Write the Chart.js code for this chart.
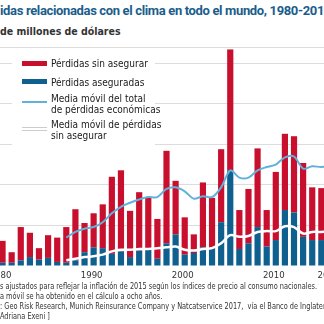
<!DOCTYPE html>
<html>
<head>
<meta charset="utf-8">
<script src="https://cdn.jsdelivr.net/npm/chart.js@4"></script>
<style>
  html, body { margin: 0; padding: 0; background: #fff; }
  body { width: 324px; height: 324px; overflow: hidden; position: relative; }
  .narrow { font-family: "Liberation Sans Narrow", "DejaVu Sans Condensed", sans-serif; }
  #title { position: absolute; left: 0; top: 3px; white-space: nowrap; font-family: Roboto, sans-serif;
    font-weight: bold; font-size: 13px; color: #1a5d8c; letter-spacing: -0.35px; }
  #subtitle { position: absolute; left: 0; top: 25px; white-space: nowrap; font-size: 10.5px; font-weight: bold; color: #333; }
  #chartBox { position: absolute; left: -2px; top: 40px; width: 337px; height: 250px; }
  #legend { position: absolute; left: 12px; top: 55px; width: 143px; height: 93px; background: #fff; }
  .item { position: absolute; left: 39px; font-size: 10px; line-height: 11px; color: #1a1a1a; white-space: nowrap; }
  .sw { position: absolute; left: 10px; width: 25px; }
  #notes { position: absolute; left: 0; top: 281px; font-size: 8.5px; line-height: 10px; color: #333; white-space: nowrap;
    transform: scaleX(0.86); transform-origin: 0 0; }
</style>
</head>
<body>
<div id="title">idas relacionadas con el clima en todo el mundo, 1980-2016</div>
<div id="subtitle" class="narrow">de millones de dólares</div>
<div id="chartBox"><canvas id="lossChart"></canvas></div>
<div id="legend" class="narrow">
  <div class="sw" style="top:6px;height:5px;background:#c8102e"></div>
  <div class="item" style="top:3px">Pérdidas sin asegurar</div>
  <div class="sw" style="top:24px;height:5px;background:#0f5f8f"></div>
  <div class="item" style="top:22px">Pérdidas aseguradas</div>
  <div class="sw" style="top:46px;height:2px;background:#62b1db"></div>
  <div class="item" style="top:38px">Media móvil del total<br>de pérdidas económicas</div>
  <div class="sw" style="top:72px;height:1.5px;background:#fff;border-top:1px solid #ccc;border-bottom:1px solid #ccc"></div>
  <div class="item" style="top:64px">Media móvil de pérdidas<br>sin asegurar</div>
</div>
<div id="notes" class="narrow">
  s ajustados para reflejar la inflación de 2015 según los índices de precio al consumo nacionales.<br>
  a móvil se ha obtenido en el cálculo a ocho años.<br>
  : Geo Risk Research, Munich Reinsurance Company y Natcatservice 2017,&nbsp; vía el Banco de Inglaterra<br>
  Adriana Exeni ]
</div>

<script>
// Years on the x axis
const years = [
	1980, 1981, 1982, 1983, 1984, 1985, 1986, 1987, 1988, 1989,
	1990, 1991, 1992, 1993, 1994, 1995, 1996, 1997, 1998, 1999,
	2000, 2001, 2002, 2003, 2004, 2005, 2006, 2007, 2008, 2009,
	2010, 2011, 2012, 2013, 2014, 2015, 2016,
];

// Insured losses (miles de millones de dólares)
const insured = [
	4, 4, 7, 11, 8, 10, 5, 4, 7, 17,
	23, 22, 15, 18, 11, 19, 20, 9, 28, 39,
	14, 16, 23, 22, 54, 118, 21, 28, 48, 24,
	32, 69, 66, 36, 32, 32, 45,
];

// Total economic losses (bar tops)
const totalLosses = [
	31, 17, 48, 41, 22, 38, 35, 48, 70, 53,
	65, 76, 110, 118, 68, 91, 85, 58, 142, 105,
	60, 39, 103, 84, 144, 267, 69, 95, 145, 69,
	116, 163, 160, 127, 97, 96, 120,
];

// Uninsured = total - insured
const uninsured = totalLosses.map((t, i) => t - insured[i]);

// Moving average of total losses
const maTotal = [
	null, null, null, null, null, null, null, 35, 42, 46,
	48, 54, 65, 73, 78, 82, 85, 85, 95, 97,
	92, 83, 86, 85, 97, 118, 109, 109, 118, 122,
	125, 134, 135, 120, 123, 122, 124,
];

// Moving average of uninsured losses (white line)
const maUninsured = [
	null, null, null, null, null, null, null, 7, 9, 11,
	12, 14, 18, 20, 20, 21, 21, 22, 23, 24,
	20, 19, 21, 22, 28, 38, 36, 37, 42, 43,
	43, 49, 48, 40, 42, 42, 43,
];

const colors = {
	red: "#c8102e",
	blue: "#0f5f8f",
	lightBlue: "#62b1db",
	grid: "#dcdcdc",
	text: "#333333",
};

new Chart(document.getElementById("lossChart"), {
	type: "bar",
	data: {
		labels: years,
		datasets: [
			{
				type: "line",
				label: "Media móvil del total de pérdidas económicas",
				data: maTotal,
				borderColor: colors.lightBlue,
				borderWidth: 2,
				pointRadius: 0,
				tension: 0.3,
				stack: "ma1",
				order: 0,
			},
			{
				type: "line",
				label: "Media móvil de pérdidas sin asegurar",
				data: maUninsured,
				borderColor: "#ffffff",
				borderWidth: 2.5,
				pointRadius: 0,
				tension: 0.3,
				stack: "ma2",
				order: 0,
			},
			{
				label: "Pérdidas aseguradas",
				data: insured,
				backgroundColor: colors.blue,
				stack: "losses",
				barPercentage: 0.68,
				categoryPercentage: 1,
				order: 1,
			},
			{
				label: "Pérdidas sin asegurar",
				data: uninsured,
				backgroundColor: colors.red,
				stack: "losses",
				barPercentage: 0.68,
				categoryPercentage: 1,
				order: 1,
			},
		],
	},
	options: {
		responsive: true,
		maintainAspectRatio: false,
		animation: false,
		layout: { autoPadding: false, padding: { top: 7, left: 0, right: 0, bottom: 0 } },
		plugins: {
			legend: { display: false },
			tooltip: { enabled: false },
		},
		scales: {
			x: {
				stacked: true,
				grid: { display: false, drawTicks: false },
				border: { display: false },
				afterFit: function (scale) {
					scale.height = 24;
					scale.paddingLeft = 0;
					scale.paddingRight = 0;
				},
				ticks: {
					autoSkip: false,
					maxRotation: 0,
					padding: 4,
					labelOffset: -2,
					color: colors.text,
					font: { size: 9.5, family: "'Liberation Sans Narrow', 'DejaVu Sans Condensed', sans-serif" },
					callback: function (value, index) {
						const y = years[index];
						return y % 10 === 0 || y === 2016 ? String(y) : "";
					},
				},
			},
			y: {
				stacked: true,
				min: 0,
				max: 270,
				afterFit: function (scale) {
					scale.width = 0;
					scale.paddingTop = 0;
					scale.paddingBottom = 0;
				},
				border: { display: false },
				grid: {
					drawTicks: false,
					color: (ctx) => (ctx.tick && ctx.tick.value === 0 ? "rgba(0,0,0,0)" : colors.grid),
				},
				ticks: { display: false, stepSize: 50 },
			},
		},
	},
});
</script>
</body>
</html>
